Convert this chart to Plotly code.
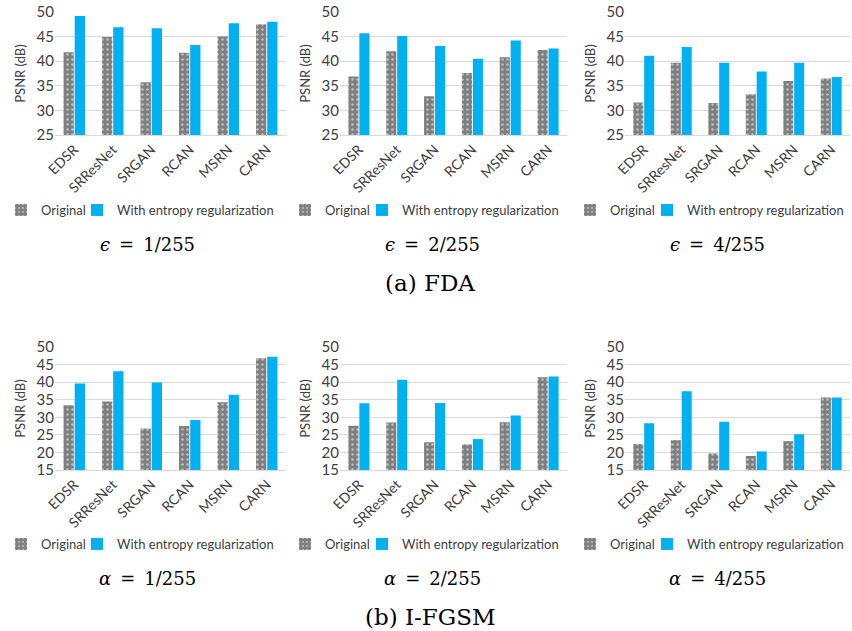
import plotly.graph_objects as go

models = ["EDSR", "SRResNet", "SRGAN", "RCAN", "MSRN", "CARN"]

fda_orig_1 = [41.8, 44.9, 35.7, 41.7, 45.0, 47.5]
fda_ent_1 = [49.2, 46.9, 46.7, 43.3, 47.7, 48.0]
fda_orig_2 = [36.9, 42.0, 32.9, 37.6, 40.8, 42.3]
fda_ent_2 = [45.7, 45.1, 43.1, 40.5, 44.2, 42.6]
fda_orig_4 = [31.6, 39.7, 31.5, 33.3, 36.0, 36.5]
fda_ent_4 = [41.1, 42.9, 39.7, 37.9, 39.7, 36.8]

ifgsm_orig_1 = [33.4, 34.5, 26.8, 27.5, 34.3, 46.8]
ifgsm_ent_1 = [39.6, 43.1, 39.9, 29.2, 36.4, 47.2]
ifgsm_orig_2 = [27.6, 28.5, 22.9, 22.3, 28.6, 41.4]
ifgsm_ent_2 = [34.0, 40.7, 34.1, 23.8, 30.5, 41.6]
ifgsm_orig_4 = [22.4, 23.5, 19.7, 19.0, 23.2, 35.6]
ifgsm_ent_4 = [28.3, 37.4, 28.7, 20.3, 25.2, 35.6]

series_names = ["Original", "With entropy regularization"]
SP = "\u2002"
captions = [f"<i>ϵ</i>{SP}={SP}1/255", f"<i>ϵ</i>{SP}={SP}2/255", f"<i>ϵ</i>{SP}={SP}4/255",
            f"<i>α</i>{SP}={SP}1/255", f"<i>α</i>{SP}={SP}2/255", f"<i>α</i>{SP}={SP}4/255"]
group_captions = ["(a) FDA", "(b) I-FGSM"]
y_title = "PSNR (dB)"
top_range = [25, 50]
bottom_range = [15, 50]

panels = [
    (fda_orig_1, fda_ent_1), (fda_orig_2, fda_ent_2), (fda_orig_4, fda_ent_4),
    (ifgsm_orig_1, ifgsm_ent_1), (ifgsm_orig_2, ifgsm_ent_2), (ifgsm_orig_4, ifgsm_ent_4),
]

W, H = 852, 631
x_doms = [(55, 286), (340, 567), (625, 850)]
y_doms = [(12, 135), (347, 470)]
legend_y = [210, 544]
legend_text_x = [(41, 117), (325, 402), (610, 687)]
caption_y = [244, 578]
group_y = [283, 617]
caption_x = [147, 432, 717]

GRAY = "#7f7f7f"
BLUE = "#00b0f0"
FONT = "Lato"
TXT = "#404040"

fig = go.Figure()
layout = dict(
    width=W, height=H, margin=dict(l=0, r=0, t=0, b=0, autoexpand=False),
    paper_bgcolor="white", plot_bgcolor="white", showlegend=True,
    barmode="group", bargap=0.42, bargroupgap=0.08,
    font=dict(family=FONT, size=12, color=TXT),
    annotations=[],
)

leg_idx = 0
for i, (orig, ent) in enumerate(panels):
    row, col = divmod(i, 3)
    xa = "x" if i == 0 else f"x{i+1}"
    ya = "y" if i == 0 else f"y{i+1}"
    for k, (vals, name) in enumerate(zip((orig, ent), series_names)):
        leg_idx += 1
        lg = "legend" if leg_idx == 1 else f"legend{leg_idx}"
        if k == 0:
            marker = dict(color=GRAY, line=dict(width=0),
                          pattern=dict(shape=".", fgcolor="white", bgcolor=GRAY, size=5, solidity=0.2))
        else:
            marker = dict(color=BLUE, line=dict(width=0))
        fig.add_trace(go.Bar(x=models, y=vals, name=name, xaxis=xa, yaxis=ya,
                             legend=lg, marker=marker, showlegend=True))
        layout[lg] = dict(
            orientation="h", x=(legend_text_x[col][k] - 40) / W, xanchor="left",
            y=1 - legend_y[row] / H, yanchor="middle",
            font=dict(family=FONT, size=13, color=TXT),
            bgcolor="rgba(0,0,0,0)", itemwidth=30, borderwidth=0, visible=True,
        )
    x0, x1 = x_doms[col]
    y0, y1 = y_doms[row]
    xkey = "xaxis" if i == 0 else f"xaxis{i+1}"
    ykey = "yaxis" if i == 0 else f"yaxis{i+1}"
    layout[xkey] = dict(
        domain=[x0 / W, x1 / W], anchor=ya, tickangle=-45, automargin=False,
        tickfont=dict(family=FONT, size=14, color=TXT),
        showline=True, linecolor="#d9d9d9", linewidth=1, ticks="", showgrid=False,
    )
    layout[ykey] = dict(
        domain=[1 - y1 / H, 1 - y0 / H], anchor=xa, automargin=False,
        range=top_range if row == 0 else bottom_range, dtick=5,
        showgrid=True, gridcolor="#d9d9d9", gridwidth=1, zeroline=False,
        tickfont=dict(family=FONT, size=15, color=TXT),
        title=dict(text=y_title, font=dict(family=FONT, size=13, color=TXT), standoff=8),
        ticks="", showline=False,
    )
    layout["annotations"].append(dict(
        text=captions[i], x=caption_x[col] / W, y=1 - caption_y[row] / H,
        xref="paper", yref="paper", showarrow=False, xanchor="center", yanchor="middle",
        font=dict(family="DejaVu Serif", size=18, color="black"),
    ))

for r in range(2):
    layout["annotations"].append(dict(
        text=group_captions[r], x=430 / W, y=1 - group_y[r] / H,
        xref="paper", yref="paper", showarrow=False, xanchor="center", yanchor="middle",
        font=dict(family="DejaVu Serif", size=23, color="black"),
    ))

fig.update_layout(**layout)
fig.write_html("out.html", config={"displayModeBar": False},
               post_script="document.body.style.margin='0';document.body.style.overflow='hidden';")
